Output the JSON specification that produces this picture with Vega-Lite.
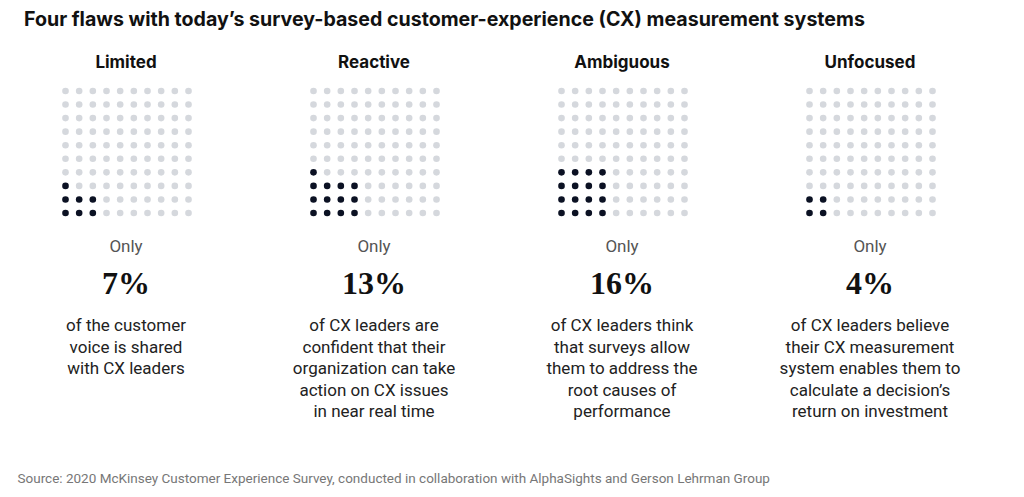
{
 "$schema": "https://vega.github.io/schema/vega-lite/v6.json",
 "padding": {"left": 2, "top": 10, "right": 0, "bottom": 0},
 "background": "white",
 "title": {"text": "Four flaws with today’s survey-based customer-experience (CX) measurement systems", "anchor": "start", "dx": 22, "fontSize": 19.6, "fontWeight": "bold", "font": "Inter", "color": "#111111", "offset": 23},
 "config": {"view": {"stroke": null}},
 "spacing": 46,
 "vconcat": [
  {
   "data": {"values": [
{"p":"Limited","r":0,"c":0,"f":1},{"p":"Limited","r":0,"c":1,"f":1},{"p":"Limited","r":0,"c":2,"f":1},{"p":"Limited","r":0,"c":3,"f":0},{"p":"Limited","r":0,"c":4,"f":0},{"p":"Limited","r":0,"c":5,"f":0},{"p":"Limited","r":0,"c":6,"f":0},{"p":"Limited","r":0,"c":7,"f":0},{"p":"Limited","r":0,"c":8,"f":0},{"p":"Limited","r":0,"c":9,"f":0},
{"p":"Limited","r":1,"c":0,"f":1},{"p":"Limited","r":1,"c":1,"f":1},{"p":"Limited","r":1,"c":2,"f":1},{"p":"Limited","r":1,"c":3,"f":0},{"p":"Limited","r":1,"c":4,"f":0},{"p":"Limited","r":1,"c":5,"f":0},{"p":"Limited","r":1,"c":6,"f":0},{"p":"Limited","r":1,"c":7,"f":0},{"p":"Limited","r":1,"c":8,"f":0},{"p":"Limited","r":1,"c":9,"f":0},
{"p":"Limited","r":2,"c":0,"f":1},{"p":"Limited","r":2,"c":1,"f":0},{"p":"Limited","r":2,"c":2,"f":0},{"p":"Limited","r":2,"c":3,"f":0},{"p":"Limited","r":2,"c":4,"f":0},{"p":"Limited","r":2,"c":5,"f":0},{"p":"Limited","r":2,"c":6,"f":0},{"p":"Limited","r":2,"c":7,"f":0},{"p":"Limited","r":2,"c":8,"f":0},{"p":"Limited","r":2,"c":9,"f":0},
{"p":"Limited","r":3,"c":0,"f":0},{"p":"Limited","r":3,"c":1,"f":0},{"p":"Limited","r":3,"c":2,"f":0},{"p":"Limited","r":3,"c":3,"f":0},{"p":"Limited","r":3,"c":4,"f":0},{"p":"Limited","r":3,"c":5,"f":0},{"p":"Limited","r":3,"c":6,"f":0},{"p":"Limited","r":3,"c":7,"f":0},{"p":"Limited","r":3,"c":8,"f":0},{"p":"Limited","r":3,"c":9,"f":0},
{"p":"Limited","r":4,"c":0,"f":0},{"p":"Limited","r":4,"c":1,"f":0},{"p":"Limited","r":4,"c":2,"f":0},{"p":"Limited","r":4,"c":3,"f":0},{"p":"Limited","r":4,"c":4,"f":0},{"p":"Limited","r":4,"c":5,"f":0},{"p":"Limited","r":4,"c":6,"f":0},{"p":"Limited","r":4,"c":7,"f":0},{"p":"Limited","r":4,"c":8,"f":0},{"p":"Limited","r":4,"c":9,"f":0},
{"p":"Limited","r":5,"c":0,"f":0},{"p":"Limited","r":5,"c":1,"f":0},{"p":"Limited","r":5,"c":2,"f":0},{"p":"Limited","r":5,"c":3,"f":0},{"p":"Limited","r":5,"c":4,"f":0},{"p":"Limited","r":5,"c":5,"f":0},{"p":"Limited","r":5,"c":6,"f":0},{"p":"Limited","r":5,"c":7,"f":0},{"p":"Limited","r":5,"c":8,"f":0},{"p":"Limited","r":5,"c":9,"f":0},
{"p":"Limited","r":6,"c":0,"f":0},{"p":"Limited","r":6,"c":1,"f":0},{"p":"Limited","r":6,"c":2,"f":0},{"p":"Limited","r":6,"c":3,"f":0},{"p":"Limited","r":6,"c":4,"f":0},{"p":"Limited","r":6,"c":5,"f":0},{"p":"Limited","r":6,"c":6,"f":0},{"p":"Limited","r":6,"c":7,"f":0},{"p":"Limited","r":6,"c":8,"f":0},{"p":"Limited","r":6,"c":9,"f":0},
{"p":"Limited","r":7,"c":0,"f":0},{"p":"Limited","r":7,"c":1,"f":0},{"p":"Limited","r":7,"c":2,"f":0},{"p":"Limited","r":7,"c":3,"f":0},{"p":"Limited","r":7,"c":4,"f":0},{"p":"Limited","r":7,"c":5,"f":0},{"p":"Limited","r":7,"c":6,"f":0},{"p":"Limited","r":7,"c":7,"f":0},{"p":"Limited","r":7,"c":8,"f":0},{"p":"Limited","r":7,"c":9,"f":0},
{"p":"Limited","r":8,"c":0,"f":0},{"p":"Limited","r":8,"c":1,"f":0},{"p":"Limited","r":8,"c":2,"f":0},{"p":"Limited","r":8,"c":3,"f":0},{"p":"Limited","r":8,"c":4,"f":0},{"p":"Limited","r":8,"c":5,"f":0},{"p":"Limited","r":8,"c":6,"f":0},{"p":"Limited","r":8,"c":7,"f":0},{"p":"Limited","r":8,"c":8,"f":0},{"p":"Limited","r":8,"c":9,"f":0},
{"p":"Limited","r":9,"c":0,"f":0},{"p":"Limited","r":9,"c":1,"f":0},{"p":"Limited","r":9,"c":2,"f":0},{"p":"Limited","r":9,"c":3,"f":0},{"p":"Limited","r":9,"c":4,"f":0},{"p":"Limited","r":9,"c":5,"f":0},{"p":"Limited","r":9,"c":6,"f":0},{"p":"Limited","r":9,"c":7,"f":0},{"p":"Limited","r":9,"c":8,"f":0},{"p":"Limited","r":9,"c":9,"f":0},
{"p":"Reactive","r":0,"c":0,"f":1},{"p":"Reactive","r":0,"c":1,"f":1},{"p":"Reactive","r":0,"c":2,"f":1},{"p":"Reactive","r":0,"c":3,"f":1},{"p":"Reactive","r":0,"c":4,"f":0},{"p":"Reactive","r":0,"c":5,"f":0},{"p":"Reactive","r":0,"c":6,"f":0},{"p":"Reactive","r":0,"c":7,"f":0},{"p":"Reactive","r":0,"c":8,"f":0},{"p":"Reactive","r":0,"c":9,"f":0},
{"p":"Reactive","r":1,"c":0,"f":1},{"p":"Reactive","r":1,"c":1,"f":1},{"p":"Reactive","r":1,"c":2,"f":1},{"p":"Reactive","r":1,"c":3,"f":1},{"p":"Reactive","r":1,"c":4,"f":0},{"p":"Reactive","r":1,"c":5,"f":0},{"p":"Reactive","r":1,"c":6,"f":0},{"p":"Reactive","r":1,"c":7,"f":0},{"p":"Reactive","r":1,"c":8,"f":0},{"p":"Reactive","r":1,"c":9,"f":0},
{"p":"Reactive","r":2,"c":0,"f":1},{"p":"Reactive","r":2,"c":1,"f":1},{"p":"Reactive","r":2,"c":2,"f":1},{"p":"Reactive","r":2,"c":3,"f":1},{"p":"Reactive","r":2,"c":4,"f":0},{"p":"Reactive","r":2,"c":5,"f":0},{"p":"Reactive","r":2,"c":6,"f":0},{"p":"Reactive","r":2,"c":7,"f":0},{"p":"Reactive","r":2,"c":8,"f":0},{"p":"Reactive","r":2,"c":9,"f":0},
{"p":"Reactive","r":3,"c":0,"f":1},{"p":"Reactive","r":3,"c":1,"f":0},{"p":"Reactive","r":3,"c":2,"f":0},{"p":"Reactive","r":3,"c":3,"f":0},{"p":"Reactive","r":3,"c":4,"f":0},{"p":"Reactive","r":3,"c":5,"f":0},{"p":"Reactive","r":3,"c":6,"f":0},{"p":"Reactive","r":3,"c":7,"f":0},{"p":"Reactive","r":3,"c":8,"f":0},{"p":"Reactive","r":3,"c":9,"f":0},
{"p":"Reactive","r":4,"c":0,"f":0},{"p":"Reactive","r":4,"c":1,"f":0},{"p":"Reactive","r":4,"c":2,"f":0},{"p":"Reactive","r":4,"c":3,"f":0},{"p":"Reactive","r":4,"c":4,"f":0},{"p":"Reactive","r":4,"c":5,"f":0},{"p":"Reactive","r":4,"c":6,"f":0},{"p":"Reactive","r":4,"c":7,"f":0},{"p":"Reactive","r":4,"c":8,"f":0},{"p":"Reactive","r":4,"c":9,"f":0},
{"p":"Reactive","r":5,"c":0,"f":0},{"p":"Reactive","r":5,"c":1,"f":0},{"p":"Reactive","r":5,"c":2,"f":0},{"p":"Reactive","r":5,"c":3,"f":0},{"p":"Reactive","r":5,"c":4,"f":0},{"p":"Reactive","r":5,"c":5,"f":0},{"p":"Reactive","r":5,"c":6,"f":0},{"p":"Reactive","r":5,"c":7,"f":0},{"p":"Reactive","r":5,"c":8,"f":0},{"p":"Reactive","r":5,"c":9,"f":0},
{"p":"Reactive","r":6,"c":0,"f":0},{"p":"Reactive","r":6,"c":1,"f":0},{"p":"Reactive","r":6,"c":2,"f":0},{"p":"Reactive","r":6,"c":3,"f":0},{"p":"Reactive","r":6,"c":4,"f":0},{"p":"Reactive","r":6,"c":5,"f":0},{"p":"Reactive","r":6,"c":6,"f":0},{"p":"Reactive","r":6,"c":7,"f":0},{"p":"Reactive","r":6,"c":8,"f":0},{"p":"Reactive","r":6,"c":9,"f":0},
{"p":"Reactive","r":7,"c":0,"f":0},{"p":"Reactive","r":7,"c":1,"f":0},{"p":"Reactive","r":7,"c":2,"f":0},{"p":"Reactive","r":7,"c":3,"f":0},{"p":"Reactive","r":7,"c":4,"f":0},{"p":"Reactive","r":7,"c":5,"f":0},{"p":"Reactive","r":7,"c":6,"f":0},{"p":"Reactive","r":7,"c":7,"f":0},{"p":"Reactive","r":7,"c":8,"f":0},{"p":"Reactive","r":7,"c":9,"f":0},
{"p":"Reactive","r":8,"c":0,"f":0},{"p":"Reactive","r":8,"c":1,"f":0},{"p":"Reactive","r":8,"c":2,"f":0},{"p":"Reactive","r":8,"c":3,"f":0},{"p":"Reactive","r":8,"c":4,"f":0},{"p":"Reactive","r":8,"c":5,"f":0},{"p":"Reactive","r":8,"c":6,"f":0},{"p":"Reactive","r":8,"c":7,"f":0},{"p":"Reactive","r":8,"c":8,"f":0},{"p":"Reactive","r":8,"c":9,"f":0},
{"p":"Reactive","r":9,"c":0,"f":0},{"p":"Reactive","r":9,"c":1,"f":0},{"p":"Reactive","r":9,"c":2,"f":0},{"p":"Reactive","r":9,"c":3,"f":0},{"p":"Reactive","r":9,"c":4,"f":0},{"p":"Reactive","r":9,"c":5,"f":0},{"p":"Reactive","r":9,"c":6,"f":0},{"p":"Reactive","r":9,"c":7,"f":0},{"p":"Reactive","r":9,"c":8,"f":0},{"p":"Reactive","r":9,"c":9,"f":0},
{"p":"Ambiguous","r":0,"c":0,"f":1},{"p":"Ambiguous","r":0,"c":1,"f":1},{"p":"Ambiguous","r":0,"c":2,"f":1},{"p":"Ambiguous","r":0,"c":3,"f":1},{"p":"Ambiguous","r":0,"c":4,"f":0},{"p":"Ambiguous","r":0,"c":5,"f":0},{"p":"Ambiguous","r":0,"c":6,"f":0},{"p":"Ambiguous","r":0,"c":7,"f":0},{"p":"Ambiguous","r":0,"c":8,"f":0},{"p":"Ambiguous","r":0,"c":9,"f":0},
{"p":"Ambiguous","r":1,"c":0,"f":1},{"p":"Ambiguous","r":1,"c":1,"f":1},{"p":"Ambiguous","r":1,"c":2,"f":1},{"p":"Ambiguous","r":1,"c":3,"f":1},{"p":"Ambiguous","r":1,"c":4,"f":0},{"p":"Ambiguous","r":1,"c":5,"f":0},{"p":"Ambiguous","r":1,"c":6,"f":0},{"p":"Ambiguous","r":1,"c":7,"f":0},{"p":"Ambiguous","r":1,"c":8,"f":0},{"p":"Ambiguous","r":1,"c":9,"f":0},
{"p":"Ambiguous","r":2,"c":0,"f":1},{"p":"Ambiguous","r":2,"c":1,"f":1},{"p":"Ambiguous","r":2,"c":2,"f":1},{"p":"Ambiguous","r":2,"c":3,"f":1},{"p":"Ambiguous","r":2,"c":4,"f":0},{"p":"Ambiguous","r":2,"c":5,"f":0},{"p":"Ambiguous","r":2,"c":6,"f":0},{"p":"Ambiguous","r":2,"c":7,"f":0},{"p":"Ambiguous","r":2,"c":8,"f":0},{"p":"Ambiguous","r":2,"c":9,"f":0},
{"p":"Ambiguous","r":3,"c":0,"f":1},{"p":"Ambiguous","r":3,"c":1,"f":1},{"p":"Ambiguous","r":3,"c":2,"f":1},{"p":"Ambiguous","r":3,"c":3,"f":1},{"p":"Ambiguous","r":3,"c":4,"f":0},{"p":"Ambiguous","r":3,"c":5,"f":0},{"p":"Ambiguous","r":3,"c":6,"f":0},{"p":"Ambiguous","r":3,"c":7,"f":0},{"p":"Ambiguous","r":3,"c":8,"f":0},{"p":"Ambiguous","r":3,"c":9,"f":0},
{"p":"Ambiguous","r":4,"c":0,"f":0},{"p":"Ambiguous","r":4,"c":1,"f":0},{"p":"Ambiguous","r":4,"c":2,"f":0},{"p":"Ambiguous","r":4,"c":3,"f":0},{"p":"Ambiguous","r":4,"c":4,"f":0},{"p":"Ambiguous","r":4,"c":5,"f":0},{"p":"Ambiguous","r":4,"c":6,"f":0},{"p":"Ambiguous","r":4,"c":7,"f":0},{"p":"Ambiguous","r":4,"c":8,"f":0},{"p":"Ambiguous","r":4,"c":9,"f":0},
{"p":"Ambiguous","r":5,"c":0,"f":0},{"p":"Ambiguous","r":5,"c":1,"f":0},{"p":"Ambiguous","r":5,"c":2,"f":0},{"p":"Ambiguous","r":5,"c":3,"f":0},{"p":"Ambiguous","r":5,"c":4,"f":0},{"p":"Ambiguous","r":5,"c":5,"f":0},{"p":"Ambiguous","r":5,"c":6,"f":0},{"p":"Ambiguous","r":5,"c":7,"f":0},{"p":"Ambiguous","r":5,"c":8,"f":0},{"p":"Ambiguous","r":5,"c":9,"f":0},
{"p":"Ambiguous","r":6,"c":0,"f":0},{"p":"Ambiguous","r":6,"c":1,"f":0},{"p":"Ambiguous","r":6,"c":2,"f":0},{"p":"Ambiguous","r":6,"c":3,"f":0},{"p":"Ambiguous","r":6,"c":4,"f":0},{"p":"Ambiguous","r":6,"c":5,"f":0},{"p":"Ambiguous","r":6,"c":6,"f":0},{"p":"Ambiguous","r":6,"c":7,"f":0},{"p":"Ambiguous","r":6,"c":8,"f":0},{"p":"Ambiguous","r":6,"c":9,"f":0},
{"p":"Ambiguous","r":7,"c":0,"f":0},{"p":"Ambiguous","r":7,"c":1,"f":0},{"p":"Ambiguous","r":7,"c":2,"f":0},{"p":"Ambiguous","r":7,"c":3,"f":0},{"p":"Ambiguous","r":7,"c":4,"f":0},{"p":"Ambiguous","r":7,"c":5,"f":0},{"p":"Ambiguous","r":7,"c":6,"f":0},{"p":"Ambiguous","r":7,"c":7,"f":0},{"p":"Ambiguous","r":7,"c":8,"f":0},{"p":"Ambiguous","r":7,"c":9,"f":0},
{"p":"Ambiguous","r":8,"c":0,"f":0},{"p":"Ambiguous","r":8,"c":1,"f":0},{"p":"Ambiguous","r":8,"c":2,"f":0},{"p":"Ambiguous","r":8,"c":3,"f":0},{"p":"Ambiguous","r":8,"c":4,"f":0},{"p":"Ambiguous","r":8,"c":5,"f":0},{"p":"Ambiguous","r":8,"c":6,"f":0},{"p":"Ambiguous","r":8,"c":7,"f":0},{"p":"Ambiguous","r":8,"c":8,"f":0},{"p":"Ambiguous","r":8,"c":9,"f":0},
{"p":"Ambiguous","r":9,"c":0,"f":0},{"p":"Ambiguous","r":9,"c":1,"f":0},{"p":"Ambiguous","r":9,"c":2,"f":0},{"p":"Ambiguous","r":9,"c":3,"f":0},{"p":"Ambiguous","r":9,"c":4,"f":0},{"p":"Ambiguous","r":9,"c":5,"f":0},{"p":"Ambiguous","r":9,"c":6,"f":0},{"p":"Ambiguous","r":9,"c":7,"f":0},{"p":"Ambiguous","r":9,"c":8,"f":0},{"p":"Ambiguous","r":9,"c":9,"f":0},
{"p":"Unfocused","r":0,"c":0,"f":1},{"p":"Unfocused","r":0,"c":1,"f":1},{"p":"Unfocused","r":0,"c":2,"f":0},{"p":"Unfocused","r":0,"c":3,"f":0},{"p":"Unfocused","r":0,"c":4,"f":0},{"p":"Unfocused","r":0,"c":5,"f":0},{"p":"Unfocused","r":0,"c":6,"f":0},{"p":"Unfocused","r":0,"c":7,"f":0},{"p":"Unfocused","r":0,"c":8,"f":0},{"p":"Unfocused","r":0,"c":9,"f":0},
{"p":"Unfocused","r":1,"c":0,"f":1},{"p":"Unfocused","r":1,"c":1,"f":1},{"p":"Unfocused","r":1,"c":2,"f":0},{"p":"Unfocused","r":1,"c":3,"f":0},{"p":"Unfocused","r":1,"c":4,"f":0},{"p":"Unfocused","r":1,"c":5,"f":0},{"p":"Unfocused","r":1,"c":6,"f":0},{"p":"Unfocused","r":1,"c":7,"f":0},{"p":"Unfocused","r":1,"c":8,"f":0},{"p":"Unfocused","r":1,"c":9,"f":0},
{"p":"Unfocused","r":2,"c":0,"f":0},{"p":"Unfocused","r":2,"c":1,"f":0},{"p":"Unfocused","r":2,"c":2,"f":0},{"p":"Unfocused","r":2,"c":3,"f":0},{"p":"Unfocused","r":2,"c":4,"f":0},{"p":"Unfocused","r":2,"c":5,"f":0},{"p":"Unfocused","r":2,"c":6,"f":0},{"p":"Unfocused","r":2,"c":7,"f":0},{"p":"Unfocused","r":2,"c":8,"f":0},{"p":"Unfocused","r":2,"c":9,"f":0},
{"p":"Unfocused","r":3,"c":0,"f":0},{"p":"Unfocused","r":3,"c":1,"f":0},{"p":"Unfocused","r":3,"c":2,"f":0},{"p":"Unfocused","r":3,"c":3,"f":0},{"p":"Unfocused","r":3,"c":4,"f":0},{"p":"Unfocused","r":3,"c":5,"f":0},{"p":"Unfocused","r":3,"c":6,"f":0},{"p":"Unfocused","r":3,"c":7,"f":0},{"p":"Unfocused","r":3,"c":8,"f":0},{"p":"Unfocused","r":3,"c":9,"f":0},
{"p":"Unfocused","r":4,"c":0,"f":0},{"p":"Unfocused","r":4,"c":1,"f":0},{"p":"Unfocused","r":4,"c":2,"f":0},{"p":"Unfocused","r":4,"c":3,"f":0},{"p":"Unfocused","r":4,"c":4,"f":0},{"p":"Unfocused","r":4,"c":5,"f":0},{"p":"Unfocused","r":4,"c":6,"f":0},{"p":"Unfocused","r":4,"c":7,"f":0},{"p":"Unfocused","r":4,"c":8,"f":0},{"p":"Unfocused","r":4,"c":9,"f":0},
{"p":"Unfocused","r":5,"c":0,"f":0},{"p":"Unfocused","r":5,"c":1,"f":0},{"p":"Unfocused","r":5,"c":2,"f":0},{"p":"Unfocused","r":5,"c":3,"f":0},{"p":"Unfocused","r":5,"c":4,"f":0},{"p":"Unfocused","r":5,"c":5,"f":0},{"p":"Unfocused","r":5,"c":6,"f":0},{"p":"Unfocused","r":5,"c":7,"f":0},{"p":"Unfocused","r":5,"c":8,"f":0},{"p":"Unfocused","r":5,"c":9,"f":0},
{"p":"Unfocused","r":6,"c":0,"f":0},{"p":"Unfocused","r":6,"c":1,"f":0},{"p":"Unfocused","r":6,"c":2,"f":0},{"p":"Unfocused","r":6,"c":3,"f":0},{"p":"Unfocused","r":6,"c":4,"f":0},{"p":"Unfocused","r":6,"c":5,"f":0},{"p":"Unfocused","r":6,"c":6,"f":0},{"p":"Unfocused","r":6,"c":7,"f":0},{"p":"Unfocused","r":6,"c":8,"f":0},{"p":"Unfocused","r":6,"c":9,"f":0},
{"p":"Unfocused","r":7,"c":0,"f":0},{"p":"Unfocused","r":7,"c":1,"f":0},{"p":"Unfocused","r":7,"c":2,"f":0},{"p":"Unfocused","r":7,"c":3,"f":0},{"p":"Unfocused","r":7,"c":4,"f":0},{"p":"Unfocused","r":7,"c":5,"f":0},{"p":"Unfocused","r":7,"c":6,"f":0},{"p":"Unfocused","r":7,"c":7,"f":0},{"p":"Unfocused","r":7,"c":8,"f":0},{"p":"Unfocused","r":7,"c":9,"f":0},
{"p":"Unfocused","r":8,"c":0,"f":0},{"p":"Unfocused","r":8,"c":1,"f":0},{"p":"Unfocused","r":8,"c":2,"f":0},{"p":"Unfocused","r":8,"c":3,"f":0},{"p":"Unfocused","r":8,"c":4,"f":0},{"p":"Unfocused","r":8,"c":5,"f":0},{"p":"Unfocused","r":8,"c":6,"f":0},{"p":"Unfocused","r":8,"c":7,"f":0},{"p":"Unfocused","r":8,"c":8,"f":0},{"p":"Unfocused","r":8,"c":9,"f":0},
{"p":"Unfocused","r":9,"c":0,"f":0},{"p":"Unfocused","r":9,"c":1,"f":0},{"p":"Unfocused","r":9,"c":2,"f":0},{"p":"Unfocused","r":9,"c":3,"f":0},{"p":"Unfocused","r":9,"c":4,"f":0},{"p":"Unfocused","r":9,"c":5,"f":0},{"p":"Unfocused","r":9,"c":6,"f":0},{"p":"Unfocused","r":9,"c":7,"f":0},{"p":"Unfocused","r":9,"c":8,"f":0},{"p":"Unfocused","r":9,"c":9,"f":0},
{"p":"Limited","k":"o","n":0,"t":"Only"},{"p":"Limited","k":"v","n":1,"t":"7%"},
{"p":"Limited","k":"d","n":1,"t":"of the customer"},{"p":"Limited","k":"d","n":2,"t":"voice is shared"},{"p":"Limited","k":"d","n":3,"t":"with CX leaders"},
{"p":"Reactive","k":"o","n":0,"t":"Only"},{"p":"Reactive","k":"v","n":1,"t":"13%"},
{"p":"Reactive","k":"d","n":1,"t":"of CX leaders are"},{"p":"Reactive","k":"d","n":2,"t":"confident that their"},{"p":"Reactive","k":"d","n":3,"t":"organization can take"},{"p":"Reactive","k":"d","n":4,"t":"action on CX issues"},{"p":"Reactive","k":"d","n":5,"t":"in near real time"},
{"p":"Ambiguous","k":"o","n":0,"t":"Only"},{"p":"Ambiguous","k":"v","n":1,"t":"16%"},
{"p":"Ambiguous","k":"d","n":1,"t":"of CX leaders think"},{"p":"Ambiguous","k":"d","n":2,"t":"that surveys allow"},{"p":"Ambiguous","k":"d","n":3,"t":"them to address the"},{"p":"Ambiguous","k":"d","n":4,"t":"root causes of"},{"p":"Ambiguous","k":"d","n":5,"t":"performance"},
{"p":"Unfocused","k":"o","n":0,"t":"Only"},{"p":"Unfocused","k":"v","n":1,"t":"4%"},
{"p":"Unfocused","k":"d","n":1,"t":"of CX leaders believe"},{"p":"Unfocused","k":"d","n":2,"t":"their CX measurement"},{"p":"Unfocused","k":"d","n":3,"t":"system enables them to"},{"p":"Unfocused","k":"d","n":4,"t":"calculate a decision’s"},{"p":"Unfocused","k":"d","n":5,"t":"return on investment"}
   ]},
   "facet": {"column": {"field": "p", "type": "nominal", "sort": ["Limited", "Reactive", "Ambiguous", "Unfocused"], "title": null,
     "header": {"labelFontSize": 17, "labelFontWeight": "bold", "labelFont": "Inter", "labelColor": "#111111", "labelPadding": 4}}},
   "spacing": 0,
   "spec": {
    "width": 248,
    "height": 350,
    "resolve": {"scale": {"y": "independent"}},
    "layer": [
     {
      "transform": [{"filter": "isValid(datum.c)"}],
      "mark": {"type": "circle", "size": 44, "opacity": 1},
      "encoding": {
       "x": {"field": "c", "type": "quantitative", "scale": {"domain": [0, 9], "range": [63.5, 186.5]}, "axis": null},
       "y": {"field": "r", "type": "quantitative", "scale": {"domain": [0, 9], "range": [137, 15]}, "axis": null},
       "color": {"field": "f", "type": "nominal", "scale": {"domain": [0, 1], "range": ["#d5d8dd", "#0b1123"]}, "legend": null}
      }
     },
     {
      "layer": [
       {
        "transform": [{"filter": "datum.k == 'o'"}],
        "mark": {"type": "text", "fontSize": 17, "font": "Roboto", "color": "#555555"},
        "encoding": {
         "y": {"field": "n", "type": "quantitative", "scale": {"domain": [0, 1], "range": [171, 208]}, "axis": null},
         "text": {"field": "t"}
        }
       },
       {
        "transform": [{"filter": "datum.k == 'v'"}],
        "mark": {"type": "text", "fontSize": 32, "font": "Liberation Serif", "fontWeight": "bold", "color": "#111111"},
        "encoding": {
         "y": {"field": "n", "type": "quantitative", "axis": null},
         "text": {"field": "t"}
        }
       }
      ]
     },
     {
      "transform": [{"filter": "datum.k == 'd'"}],
      "mark": {"type": "text", "fontSize": 17, "font": "Roboto", "color": "#222222"},
      "encoding": {
       "y": {"field": "n", "type": "quantitative", "scale": {"domain": [1, 5], "range": [250, 336]}, "axis": null},
       "text": {"field": "t"}
      }
     }
    ]
   }
  },
  {
   "data": {"values": [{"s": "Source: 2020 McKinsey Customer Experience Survey, conducted in collaboration with AlphaSights and Gerson Lehrman Group"}]},
   "width": 1,
   "height": 14,
   "mark": {"type": "text", "align": "left", "dx": 15, "fontSize": 13.5, "font": "Roboto", "color": "#777777"},
   "encoding": {"text": {"field": "s"}}
  }
 ]
}
